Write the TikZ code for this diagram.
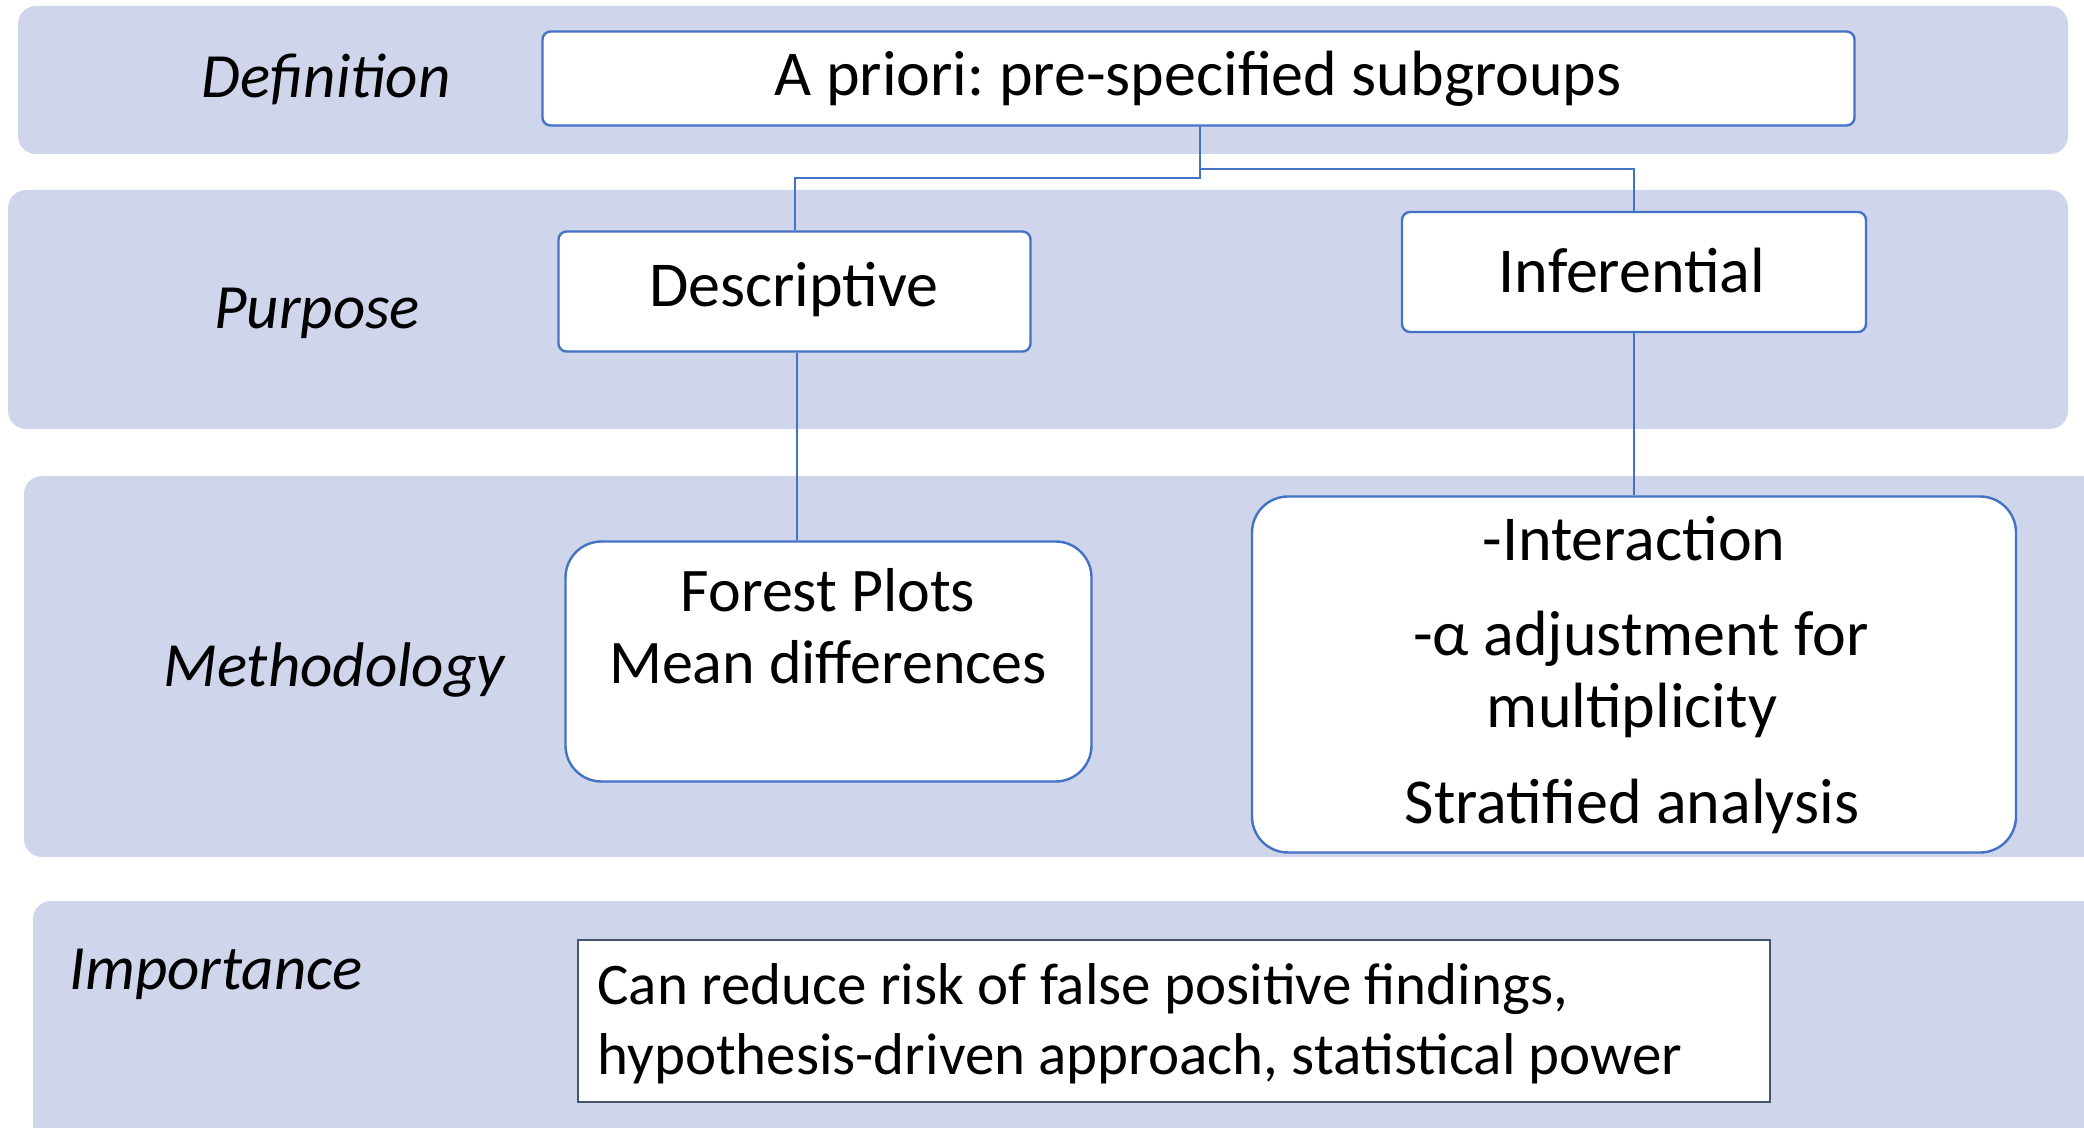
\documentclass[tikz,border=0pt]{standalone}
\usepackage{fontspec}
\setmainfont{Carlito}
\frenchspacing
\begin{document}
\begin{tikzpicture}[x=0.5pt,y=-0.5pt,
  band/.style={fill=bandfill,draw=none,rounded corners=9pt},
  box/.style={draw=boxblue,line width=1.2pt,fill=white,rounded corners=4pt,inner sep=0pt},
  bigbox/.style={box,rounded corners=18pt},
  plainbox/.style={draw=slate,line width=1.2pt,fill=white,inner sep=0pt},
  rowlabel/.style={font=\fontsize{31.5}{36}\selectfont\itshape,inner sep=0pt},
  txt/.style={font=\fontsize{32}{38}\selectfont,inner sep=0pt},
  ftxt/.style={font=\fontsize{31}{37}\selectfont,inner sep=0pt},
  itxt/.style={font=\fontsize{29.5}{35}\selectfont,inner sep=0pt},
  link/.style={draw=boxblue,line width=0.9pt}]
\definecolor{bandfill}{HTML}{CFD5EA}
\definecolor{boxblue}{HTML}{4472C4}
\definecolor{slate}{HTML}{44546A}
\useasboundingbox (0,0) rectangle (2084,1128);
\clip (0,0) rectangle (2084,1128);

% background bands, one per row
\fill[band] (18,6) rectangle (2068,154);
\fill[band] (8,190) rectangle (2068,429);
\fill[band] (24,476) rectangle (2110,857);
\fill[band] (33,901) rectangle (2110,1160);

% row labels
\node[rowlabel] (ldef) at (326,79) {Definition};
\node[rowlabel] (lpur) at (317,313) {Purpose};
\node[rowlabel] (lmet) at (334,670) {Methodology};
\node[rowlabel,anchor=west] (limp) at (69,974) {Importance};

% boxes
\node[box,minimum width=656pt,minimum height=47pt] (def) at (1198.5,78.5) {};
\node[box,minimum width=236pt,minimum height=60pt] (desc) at (794.5,291.5) {};
\node[box,minimum width=232pt,minimum height=60pt] (inf) at (1634,272) {};
\node[bigbox,minimum width=263pt,minimum height=120pt] (forest) at (828.5,661.5) {};
\node[bigbox,minimum width=382pt,minimum height=178pt] (infm) at (1634,674.5) {};
\node[plainbox,minimum width=596pt,minimum height=81pt] (imp) at (1174,1021) {};

% box texts
\node[txt] (tdef) at (1198,79) {A priori: pre-specified subgroups};
\node[txt] (tdesc) at (794,290) {Descriptive};
\node[txt] (tinf) at (1632,271) {Inferential};
\node[ftxt] (tf1) at (828,590) {Forest Plots};
\node[ftxt] (tf2) at (828,662) {Mean differences};
\node[txt] (ti1) at (1634,539) {-Interaction};
\node[txt] (ti2) at (1641,639) {-α adjustment for};
\node[txt] (ti3) at (1632,710) {multiplicity};
\node[txt] (ti4) at (1632,806) {Stratified analysis};
\node[itxt,anchor=west] (tc1) at (597,989) {Can reduce risk of false positive findings,};
\node[itxt,anchor=west] (tc2) at (597,1059) {hypothesis-driven approach, statistical power};

% connectors
\coordinate (split) at (1200,178);
\draw[link] (def.south -| split) -- (split) -| (desc.north -| 795,0);
\draw[link] (1200,169) -| (inf.north);
\draw[link] (desc.south -| 797,0) -- (forest.north -| 797,0);
\draw[link] (inf.south) -- (infm.north -| inf.south);
\end{tikzpicture}
\end{document}
